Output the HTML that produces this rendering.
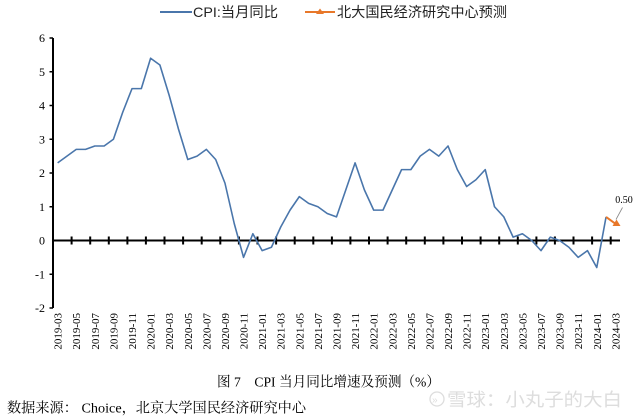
<!DOCTYPE html>
<html>
<head>
<meta charset="utf-8">
<style>
html,body{margin:0;padding:0;background:#fff;}
svg{display:block;}
</style>
</head>
<body>
<svg width="640" height="419" viewBox="0 0 640 419" xmlns="http://www.w3.org/2000/svg">
<rect width="640" height="419" fill="#fff"/>

<!-- Legend -->
<line x1="160" y1="12" x2="192" y2="12" stroke="#4a76ab" stroke-width="2"/>
<text x="193" y="17" font-family="Liberation Sans, Noto Sans CJK SC, sans-serif" font-size="14" fill="#222" textLength="85" lengthAdjust="spacingAndGlyphs">CPI:当月同比</text>
<line x1="305" y1="12" x2="335" y2="12" stroke="#e8782a" stroke-width="2"/>
<polygon points="320,8.5 324,14 316,14" fill="#e8782a"/>
<text x="337" y="17" font-family="Liberation Sans, Noto Sans CJK SC, sans-serif" font-size="14" fill="#222" textLength="170" lengthAdjust="spacingAndGlyphs">北大国民经济研究中心预测</text>

<!-- Y axis -->
<line x1="53" y1="38" x2="53" y2="308" stroke="#000" stroke-width="2"/>
<g stroke="#000" stroke-width="1.5">
<line x1="49.5" y1="38" x2="53" y2="38"/>
<line x1="49.5" y1="71.75" x2="53" y2="71.75"/>
<line x1="49.5" y1="105.5" x2="53" y2="105.5"/>
<line x1="49.5" y1="139.25" x2="53" y2="139.25"/>
<line x1="49.5" y1="173" x2="53" y2="173"/>
<line x1="49.5" y1="206.75" x2="53" y2="206.75"/>
<line x1="49.5" y1="274.25" x2="53" y2="274.25"/>
<line x1="49.5" y1="308" x2="53" y2="308"/>
</g>
<g font-family="Liberation Serif, serif" font-size="12" fill="#000" text-anchor="end">
<text x="45" y="42">6</text>
<text x="45" y="75.75">5</text>
<text x="45" y="109.5">4</text>
<text x="45" y="143.25">3</text>
<text x="45" y="177">2</text>
<text x="45" y="210.75">1</text>
<text x="45" y="244.5">0</text>
<text x="45" y="278.25">-1</text>
<text x="45" y="312">-2</text>
</g>

<!-- X axis (zero line) -->
<line x1="53" y1="240.5" x2="620" y2="240.5" stroke="#000" stroke-width="2"/>
<g stroke="#000" stroke-width="2">
<line x1="71.6" y1="236.5" x2="71.6" y2="244.5"/>
<line x1="90.2" y1="236.5" x2="90.2" y2="244.5"/>
<line x1="108.8" y1="236.5" x2="108.8" y2="244.5"/>
<line x1="127.4" y1="236.5" x2="127.4" y2="244.5"/>
<line x1="145.9" y1="236.5" x2="145.9" y2="244.5"/>
<line x1="164.5" y1="236.5" x2="164.5" y2="244.5"/>
<line x1="183.1" y1="236.5" x2="183.1" y2="244.5"/>
<line x1="201.7" y1="236.5" x2="201.7" y2="244.5"/>
<line x1="220.3" y1="236.5" x2="220.3" y2="244.5"/>
<line x1="238.9" y1="236.5" x2="238.9" y2="244.5"/>
<line x1="257.5" y1="236.5" x2="257.5" y2="244.5"/>
<line x1="276.1" y1="236.5" x2="276.1" y2="244.5"/>
<line x1="294.7" y1="236.5" x2="294.7" y2="244.5"/>
<line x1="313.3" y1="236.5" x2="313.3" y2="244.5"/>
<line x1="331.9" y1="236.5" x2="331.9" y2="244.5"/>
<line x1="350.4" y1="236.5" x2="350.4" y2="244.5"/>
<line x1="369.0" y1="236.5" x2="369.0" y2="244.5"/>
<line x1="387.6" y1="236.5" x2="387.6" y2="244.5"/>
<line x1="406.2" y1="236.5" x2="406.2" y2="244.5"/>
<line x1="424.8" y1="236.5" x2="424.8" y2="244.5"/>
<line x1="443.4" y1="236.5" x2="443.4" y2="244.5"/>
<line x1="462.0" y1="236.5" x2="462.0" y2="244.5"/>
<line x1="480.6" y1="236.5" x2="480.6" y2="244.5"/>
<line x1="499.2" y1="236.5" x2="499.2" y2="244.5"/>
<line x1="517.8" y1="236.5" x2="517.8" y2="244.5"/>
<line x1="536.4" y1="236.5" x2="536.4" y2="244.5"/>
<line x1="554.9" y1="236.5" x2="554.9" y2="244.5"/>
<line x1="573.5" y1="236.5" x2="573.5" y2="244.5"/>
<line x1="592.1" y1="236.5" x2="592.1" y2="244.5"/>
<line x1="610.7" y1="236.5" x2="610.7" y2="244.5"/>
</g>

<!-- X labels -->
<g font-family="Liberation Serif, serif" font-size="11" fill="#000" text-anchor="end">
<text transform="translate(61.6,313) rotate(-90)">2019-03</text>
<text transform="translate(80.2,313) rotate(-90)">2019-05</text>
<text transform="translate(98.8,313) rotate(-90)">2019-07</text>
<text transform="translate(117.4,313) rotate(-90)">2019-09</text>
<text transform="translate(136.0,313) rotate(-90)">2019-11</text>
<text transform="translate(154.6,313) rotate(-90)">2020-01</text>
<text transform="translate(173.2,313) rotate(-90)">2020-03</text>
<text transform="translate(191.8,313) rotate(-90)">2020-05</text>
<text transform="translate(210.4,313) rotate(-90)">2020-07</text>
<text transform="translate(229.0,313) rotate(-90)">2020-09</text>
<text transform="translate(247.6,313) rotate(-90)">2020-11</text>
<text transform="translate(266.1,313) rotate(-90)">2021-01</text>
<text transform="translate(284.7,313) rotate(-90)">2021-03</text>
<text transform="translate(303.3,313) rotate(-90)">2021-05</text>
<text transform="translate(321.9,313) rotate(-90)">2021-07</text>
<text transform="translate(340.5,313) rotate(-90)">2021-09</text>
<text transform="translate(359.1,313) rotate(-90)">2021-11</text>
<text transform="translate(377.7,313) rotate(-90)">2022-01</text>
<text transform="translate(396.3,313) rotate(-90)">2022-03</text>
<text transform="translate(414.9,313) rotate(-90)">2022-05</text>
<text transform="translate(433.5,313) rotate(-90)">2022-07</text>
<text transform="translate(452.0,313) rotate(-90)">2022-09</text>
<text transform="translate(470.6,313) rotate(-90)">2022-11</text>
<text transform="translate(489.2,313) rotate(-90)">2023-01</text>
<text transform="translate(507.8,313) rotate(-90)">2023-03</text>
<text transform="translate(526.4,313) rotate(-90)">2023-05</text>
<text transform="translate(545.0,313) rotate(-90)">2023-07</text>
<text transform="translate(563.6,313) rotate(-90)">2023-09</text>
<text transform="translate(582.2,313) rotate(-90)">2023-11</text>
<text transform="translate(600.8,313) rotate(-90)">2024-01</text>
<text transform="translate(619.4,313) rotate(-90)">2024-03</text>
</g>

<!-- CPI line -->
<polyline fill="none" stroke="#4a76ab" stroke-width="1.6" stroke-linejoin="round" points="
57.65,162.88 66.95,156.13 76.24,149.38 85.54,149.38 94.83,146.0 104.13,146.0 113.42,139.25 122.72,112.25
132.01,88.63 141.31,88.63 150.60,58.25 159.90,65.0 169.19,95.38 178.49,129.13 187.78,159.5 197.08,156.13
206.37,149.38 215.67,159.5 224.96,183.13 234.26,223.63 243.55,257.38 252.85,233.75 262.14,250.63 271.44,247.25
280.73,227.0 290.03,210.13 299.32,196.63 308.62,203.38 317.91,206.75 327.21,213.5 336.50,216.88 345.80,189.88
355.09,162.88 364.39,189.88 373.68,210.13 382.98,210.13 392.27,189.88 401.57,169.63 410.86,169.63 420.16,156.13
429.45,149.38 438.75,156.13 448.04,146.0 457.34,169.63 466.63,186.5 475.93,179.75 485.22,169.63 494.52,206.75
503.81,216.88 513.11,237.13 522.40,233.75 531.70,240.5 540.99,250.63 550.29,237.13 559.58,240.5 568.88,247.25
578.17,257.38 587.47,250.63 596.76,267.5 606.06,216.88"/>

<!-- Forecast -->
<line x1="606.06" y1="216.88" x2="615.35" y2="223.63" stroke="#e8782a" stroke-width="2"/>
<polygon points="616.5,219.5 620.5,226 612.5,226" fill="#e8782a"/>
<line x1="622.5" y1="207.5" x2="616" y2="219.5" stroke="#888" stroke-width="0.8"/>
<text x="624" y="203" font-family="Liberation Serif, serif" font-size="10" fill="#000" text-anchor="middle">0.50</text>

<!-- Caption -->
<text x="217" y="386.5" font-family="Liberation Serif, Noto Serif CJK SC, serif" font-size="14" fill="#000" textLength="223" lengthAdjust="spacingAndGlyphs">图 7　CPI 当月同比增速及预测（%）</text>

<!-- Watermark -->
<circle cx="437" cy="399" r="7" fill="none" stroke="#dddddd" stroke-width="1.3"/>
<text x="432" y="403" font-family="Liberation Sans, sans-serif" font-size="10" fill="#dddddd">»</text>
<text x="447" y="406" font-family="Liberation Sans, Noto Sans CJK SC, sans-serif" font-size="18" fill="#dddddd" textLength="175" lengthAdjust="spacingAndGlyphs">雪球：小丸子的大白</text>

<!-- Source -->
<text x="7" y="412.5" font-family="Liberation Serif, Noto Serif CJK SC, serif" font-size="14" fill="#000" textLength="299" lengthAdjust="spacingAndGlyphs">数据来源：  Choice，北京大学国民经济研究中心</text>
</svg>
</body>
</html>
